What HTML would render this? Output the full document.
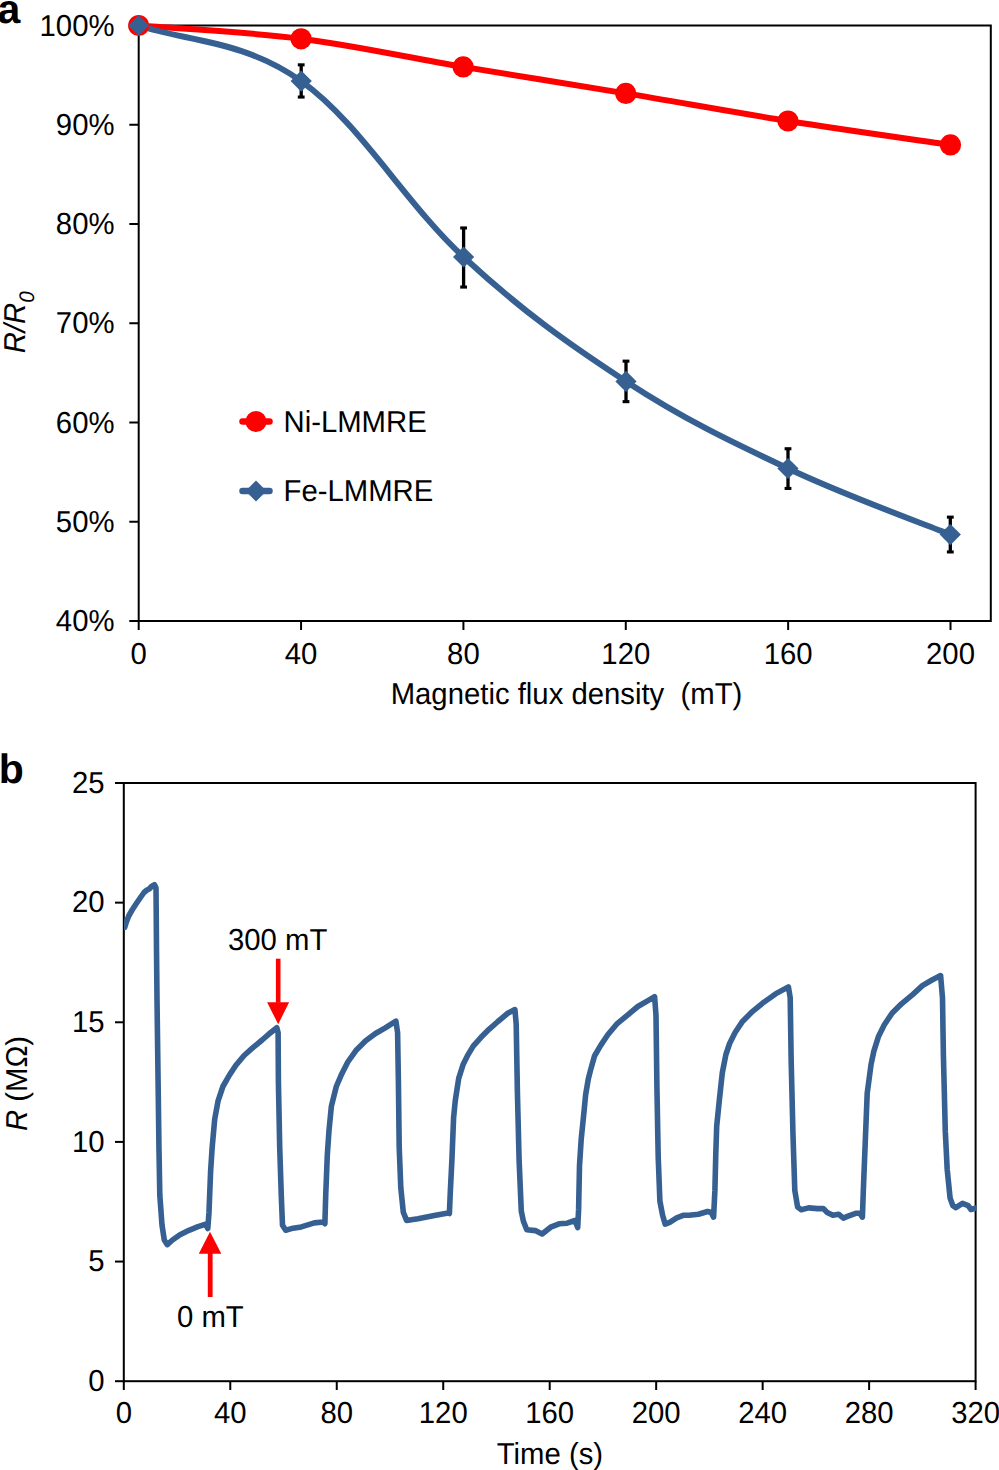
<!DOCTYPE html><html><head><meta charset="utf-8"><style>html,body{margin:0;padding:0;background:#fff;}svg{display:block;}text{font-family:"Liberation Sans",sans-serif;fill:#000;text-rendering:geometricPrecision;}</style></head><body>
<svg width="999" height="1470" viewBox="0 0 999 1470">
<text x="-2.4" y="23.2" style="font-weight:bold;font-size:41px">a</text>
<rect x="138.7" y="25.5" width="852.1" height="595.5" fill="none" stroke="#000" stroke-width="2"/>
<line x1="129.3" y1="25.50" x2="138.7" y2="25.50" stroke="#000" stroke-width="2"/>
<text transform="translate(114.50,35.50) scale(1,1.035)" text-anchor="end" font-size="29.3">100%</text>
<line x1="129.3" y1="124.75" x2="138.7" y2="124.75" stroke="#000" stroke-width="2"/>
<text transform="translate(114.50,134.75) scale(1,1.035)" text-anchor="end" font-size="29.3">90%</text>
<line x1="129.3" y1="224.00" x2="138.7" y2="224.00" stroke="#000" stroke-width="2"/>
<text transform="translate(114.50,234.00) scale(1,1.035)" text-anchor="end" font-size="29.3">80%</text>
<line x1="129.3" y1="323.25" x2="138.7" y2="323.25" stroke="#000" stroke-width="2"/>
<text transform="translate(114.50,333.25) scale(1,1.035)" text-anchor="end" font-size="29.3">70%</text>
<line x1="129.3" y1="422.50" x2="138.7" y2="422.50" stroke="#000" stroke-width="2"/>
<text transform="translate(114.50,432.50) scale(1,1.035)" text-anchor="end" font-size="29.3">60%</text>
<line x1="129.3" y1="521.75" x2="138.7" y2="521.75" stroke="#000" stroke-width="2"/>
<text transform="translate(114.50,531.75) scale(1,1.035)" text-anchor="end" font-size="29.3">50%</text>
<line x1="129.3" y1="621.00" x2="138.7" y2="621.00" stroke="#000" stroke-width="2"/>
<text transform="translate(114.50,631.00) scale(1,1.035)" text-anchor="end" font-size="29.3">40%</text>
<line x1="138.70" y1="621.0" x2="138.70" y2="630" stroke="#000" stroke-width="2"/>
<text transform="translate(138.70,663.90) scale(1,1.035)" text-anchor="middle" font-size="29.3">0</text>
<line x1="301.06" y1="621.0" x2="301.06" y2="630" stroke="#000" stroke-width="2"/>
<text transform="translate(301.06,663.90) scale(1,1.035)" text-anchor="middle" font-size="29.3">40</text>
<line x1="463.42" y1="621.0" x2="463.42" y2="630" stroke="#000" stroke-width="2"/>
<text transform="translate(463.42,663.90) scale(1,1.035)" text-anchor="middle" font-size="29.3">80</text>
<line x1="625.78" y1="621.0" x2="625.78" y2="630" stroke="#000" stroke-width="2"/>
<text transform="translate(625.78,663.90) scale(1,1.035)" text-anchor="middle" font-size="29.3">120</text>
<line x1="788.14" y1="621.0" x2="788.14" y2="630" stroke="#000" stroke-width="2"/>
<text transform="translate(788.14,663.90) scale(1,1.035)" text-anchor="middle" font-size="29.3">160</text>
<line x1="950.50" y1="621.0" x2="950.50" y2="630" stroke="#000" stroke-width="2"/>
<text transform="translate(950.50,663.90) scale(1,1.035)" text-anchor="middle" font-size="29.3">200</text>
<text transform="translate(566.50,703.50) scale(1,1.035)" text-anchor="middle" font-size="29.3">Magnetic flux density&#160; (mT)</text>
<text transform="translate(25,353.3) rotate(-90) scale(1,1.03)" font-size="29.3" font-style="italic">R/R<tspan font-size="20.5" dy="8.3">0</tspan></text>
<path d="M138.7,25.5 C171.18,28.15 247.01,31.85 301.10,38.75 C355.19,45.65 409.13,57.79 463.25,66.90 C517.37,76.01 571.67,84.39 625.80,93.40 C679.92,102.41 733.88,112.37 788.00,120.95 C842.12,129.53 923.42,140.91 950.50,144.90" fill="none" stroke="#FF0000" stroke-width="6" stroke-linejoin="round"/>
<path d="M138.7,25.5 C184.20,41.07 242.72,39.43 301.20,81.10 C359.68,122.77 405.14,202.95 463.60,257.00 C522.06,311.05 567.61,343.33 626.00,381.40 C684.39,419.47 729.63,440.92 788.00,468.50 C846.37,496.08 923.25,523.58 950.30,534.60" fill="none" stroke="#376092" stroke-width="6" stroke-linejoin="round"/>
<circle cx="138.7" cy="25.5" r="10.6" fill="#FF0000"/>
<circle cx="301.1" cy="38.8" r="10.6" fill="#FF0000"/>
<circle cx="463.2" cy="66.9" r="10.6" fill="#FF0000"/>
<circle cx="625.8" cy="93.4" r="10.6" fill="#FF0000"/>
<circle cx="788.0" cy="121.0" r="10.6" fill="#FF0000"/>
<circle cx="950.5" cy="144.9" r="10.6" fill="#FF0000"/>
<rect x="299.55" y="64.00" width="3.3" height="33.90" fill="#000"/>
<rect x="297.80" y="63.30" width="6.8" height="3.1" fill="#000"/>
<rect x="297.80" y="95.50" width="6.8" height="3.1" fill="#000"/>
<rect x="461.95" y="227.10" width="3.3" height="60.80" fill="#000"/>
<rect x="460.20" y="226.40" width="6.8" height="3.1" fill="#000"/>
<rect x="460.20" y="285.50" width="6.8" height="3.1" fill="#000"/>
<rect x="624.35" y="360.30" width="3.3" height="42.20" fill="#000"/>
<rect x="622.60" y="359.60" width="6.8" height="3.1" fill="#000"/>
<rect x="622.60" y="400.10" width="6.8" height="3.1" fill="#000"/>
<rect x="786.35" y="447.90" width="3.3" height="41.40" fill="#000"/>
<rect x="784.60" y="447.20" width="6.8" height="3.1" fill="#000"/>
<rect x="784.60" y="486.90" width="6.8" height="3.1" fill="#000"/>
<rect x="948.65" y="516.30" width="3.3" height="36.50" fill="#000"/>
<rect x="946.90" y="515.60" width="6.8" height="3.1" fill="#000"/>
<rect x="946.90" y="550.40" width="6.8" height="3.1" fill="#000"/>
<path d="M138.7,14.9 l10.6,10.6 l-10.6,10.6 l-10.6,-10.6 z" fill="#376092"/>
<path d="M301.2,70.5 l10.6,10.6 l-10.6,10.6 l-10.6,-10.6 z" fill="#376092"/>
<path d="M463.6,246.4 l10.6,10.6 l-10.6,10.6 l-10.6,-10.6 z" fill="#376092"/>
<path d="M626.0,370.8 l10.6,10.6 l-10.6,10.6 l-10.6,-10.6 z" fill="#376092"/>
<path d="M788.0,457.9 l10.6,10.6 l-10.6,10.6 l-10.6,-10.6 z" fill="#376092"/>
<path d="M950.3,524.0 l10.6,10.6 l-10.6,10.6 l-10.6,-10.6 z" fill="#376092"/>
<line x1="242.5" y1="421.5" x2="269.5" y2="421.5" stroke="#FF0000" stroke-width="6.5" stroke-linecap="round"/>
<circle cx="256" cy="421.5" r="10.5" fill="#FF0000"/>
<text transform="translate(283.50,431.80) scale(1,1.035)" font-size="29.3">Ni-LMMRE</text>
<line x1="242.5" y1="491" x2="269.5" y2="491" stroke="#376092" stroke-width="6.5" stroke-linecap="round"/>
<path d="M256,480.5 l10.5,10.5 l-10.5,10.5 l-10.5,-10.5 z" fill="#376092"/>
<text transform="translate(283.50,501.00) scale(1,1.035)" font-size="29.3">Fe-LMMRE</text>
<text x="-1.2" y="783.4" style="font-weight:bold;font-size:41px">b</text>
<rect x="123.8" y="783.0" width="851.8" height="598.2" fill="none" stroke="#000" stroke-width="2"/>
<line x1="115" y1="1381.20" x2="123.8" y2="1381.20" stroke="#000" stroke-width="2"/>
<text transform="translate(104.50,1391.00) scale(1,1.035)" text-anchor="end" font-size="29.3">0</text>
<line x1="115" y1="1261.56" x2="123.8" y2="1261.56" stroke="#000" stroke-width="2"/>
<text transform="translate(104.50,1271.36) scale(1,1.035)" text-anchor="end" font-size="29.3">5</text>
<line x1="115" y1="1141.92" x2="123.8" y2="1141.92" stroke="#000" stroke-width="2"/>
<text transform="translate(104.50,1151.72) scale(1,1.035)" text-anchor="end" font-size="29.3">10</text>
<line x1="115" y1="1022.28" x2="123.8" y2="1022.28" stroke="#000" stroke-width="2"/>
<text transform="translate(104.50,1032.08) scale(1,1.035)" text-anchor="end" font-size="29.3">15</text>
<line x1="115" y1="902.64" x2="123.8" y2="902.64" stroke="#000" stroke-width="2"/>
<text transform="translate(104.50,912.44) scale(1,1.035)" text-anchor="end" font-size="29.3">20</text>
<line x1="115" y1="783.00" x2="123.8" y2="783.00" stroke="#000" stroke-width="2"/>
<text transform="translate(104.50,792.80) scale(1,1.035)" text-anchor="end" font-size="29.3">25</text>
<line x1="123.80" y1="1381.2" x2="123.80" y2="1390" stroke="#000" stroke-width="2"/>
<text transform="translate(123.80,1422.60) scale(1,1.035)" text-anchor="middle" font-size="29.3">0</text>
<line x1="230.27" y1="1381.2" x2="230.27" y2="1390" stroke="#000" stroke-width="2"/>
<text transform="translate(230.27,1422.60) scale(1,1.035)" text-anchor="middle" font-size="29.3">40</text>
<line x1="336.75" y1="1381.2" x2="336.75" y2="1390" stroke="#000" stroke-width="2"/>
<text transform="translate(336.75,1422.60) scale(1,1.035)" text-anchor="middle" font-size="29.3">80</text>
<line x1="443.23" y1="1381.2" x2="443.23" y2="1390" stroke="#000" stroke-width="2"/>
<text transform="translate(443.23,1422.60) scale(1,1.035)" text-anchor="middle" font-size="29.3">120</text>
<line x1="549.70" y1="1381.2" x2="549.70" y2="1390" stroke="#000" stroke-width="2"/>
<text transform="translate(549.70,1422.60) scale(1,1.035)" text-anchor="middle" font-size="29.3">160</text>
<line x1="656.17" y1="1381.2" x2="656.17" y2="1390" stroke="#000" stroke-width="2"/>
<text transform="translate(656.17,1422.60) scale(1,1.035)" text-anchor="middle" font-size="29.3">200</text>
<line x1="762.65" y1="1381.2" x2="762.65" y2="1390" stroke="#000" stroke-width="2"/>
<text transform="translate(762.65,1422.60) scale(1,1.035)" text-anchor="middle" font-size="29.3">240</text>
<line x1="869.12" y1="1381.2" x2="869.12" y2="1390" stroke="#000" stroke-width="2"/>
<text transform="translate(869.12,1422.60) scale(1,1.035)" text-anchor="middle" font-size="29.3">280</text>
<line x1="975.60" y1="1381.2" x2="975.60" y2="1390" stroke="#000" stroke-width="2"/>
<text transform="translate(975.60,1422.60) scale(1,1.035)" text-anchor="middle" font-size="29.3">320</text>
<text transform="translate(549.90,1463.60) scale(1,1.035)" text-anchor="middle" font-size="29.3">Time (s)</text>
<text transform="translate(26.8,1131) rotate(-90) scale(1,1.03)" font-size="29.3"><tspan font-style="italic">R</tspan> (M&#937;)</text>
<clipPath id="cpb"><rect x="124.0" y="780" width="852.8" height="600"/></clipPath>
<path d="M124.7,927.3 L126.4,922.0 L128.7,916.0 L132.1,910.0 L136.0,904.0 L140.1,898.0 L144.0,892.5 L147.0,890.0 L149.2,889.0 L151.5,886.5 L154.5,884.8 L156.0,888.0 L156.2,910.0 L156.5,950.0 L157.0,999.0 L159.0,1150.0 L159.8,1195.0 L162.0,1225.0 L164.3,1240.0 L167.3,1244.6 L172.5,1240.0 L180.0,1234.8 L189.0,1230.3 L198.0,1226.6 L205.6,1224.3 L207.8,1228.5 L209.0,1212.2 L210.6,1171.4 L212.2,1147.0 L214.7,1119.2 L218.0,1101.2 L222.9,1086.5 L229.4,1075.1 L235.9,1065.3 L244.1,1055.5 L252.3,1048.2 L262.1,1040.0 L268.6,1034.3 L276.8,1027.8 L278.1,1032.7 L278.4,1081.6 L279.7,1147.0 L281.3,1195.9 L282.5,1225.3 L285.7,1230.2 L291.5,1228.6 L301.3,1226.9 L314.3,1222.9 L323.3,1222.0 L324.9,1223.7 L325.7,1195.9 L327.3,1155.1 L329.0,1130.6 L331.4,1106.1 L336.3,1086.5 L341.2,1075.1 L347.8,1062.0 L355.9,1050.6 L365.7,1040.8 L375.5,1033.5 L385.3,1027.8 L395.9,1021.2 L397.6,1032.7 L398.4,1081.6 L399.2,1147.0 L400.8,1187.8 L403.3,1212.2 L406.6,1220.4 L418.0,1218.8 L434.3,1215.5 L448.2,1213.0 L449.4,1213.6 L450.2,1194.1 L451.9,1160.1 L453.6,1117.6 L455.3,1100.5 L458.7,1078.4 L463.0,1064.8 L468.1,1054.6 L473.2,1046.1 L480.8,1037.6 L489.3,1029.1 L497.9,1021.5 L508.1,1013.0 L514.9,1009.6 L516.2,1024.0 L517.4,1092.0 L519.1,1160.1 L521.3,1211.1 L523.4,1221.3 L526.8,1229.8 L535.3,1230.6 L542.1,1234.0 L550.6,1227.2 L559.1,1223.8 L567.1,1223.2 L575.0,1220.5 L577.7,1227.6 L578.6,1209.9 L579.5,1165.7 L581.2,1139.2 L583.9,1112.7 L585.6,1095.0 L588.3,1079.0 L591.0,1068.4 L594.5,1056.0 L600.7,1045.4 L607.8,1034.8 L616.6,1024.2 L627.2,1015.4 L637.8,1006.5 L648.4,1000.3 L654.6,996.8 L656.0,1015.4 L656.9,1086.1 L658.2,1156.9 L659.9,1201.1 L662.6,1215.2 L665.2,1224.1 L669.7,1222.3 L676.7,1217.9 L683.8,1215.2 L689.2,1215.2 L698.4,1214.3 L707.6,1211.5 L711.2,1212.5 L713.6,1217.1 L714.9,1190.4 L715.8,1153.7 L716.7,1126.1 L719.5,1098.6 L722.3,1072.9 L725.9,1054.5 L729.6,1043.5 L735.1,1032.5 L742.5,1021.4 L751.7,1012.2 L762.7,1003.1 L775.5,993.9 L788.4,986.9 L790.2,997.6 L791.2,1061.8 L793.0,1135.3 L794.8,1190.4 L797.6,1207.0 L801.3,1209.7 L808.6,1207.9 L817.6,1208.6 L823.3,1208.6 L827.2,1212.4 L832.9,1215.2 L838.6,1214.3 L843.4,1218.1 L848.1,1216.2 L855.7,1213.3 L859.9,1213.3 L862.4,1217.1 L863.4,1188.6 L865.3,1141.0 L867.2,1093.3 L871.0,1064.8 L873.8,1051.4 L878.6,1036.2 L884.3,1024.8 L892.0,1013.3 L901.5,1003.8 L912.9,994.3 L922.4,985.7 L932.0,980.0 L940.6,975.6 L942.5,998.1 L943.4,1055.2 L945.3,1131.4 L947.2,1169.5 L950.1,1198.1 L952.9,1205.7 L955.8,1207.6 L962.5,1203.4 L968.2,1205.7 L971.0,1209.5 L977.0,1207.6" fill="none" stroke="#376092" stroke-width="5.6" stroke-linejoin="round" stroke-linecap="round" clip-path="url(#cpb)"/>
<rect x="275.9" y="958.7" width="4.6" height="44" fill="#FF0000"/>
<path d="M267.1,1002.3 L289.1,1002.3 L278.2,1024.2 Z" fill="#FF0000"/>
<text transform="translate(228.00,949.80) scale(1,1.035)" font-size="29.3">300 mT</text>
<rect x="207.8" y="1253" width="4.8" height="44" fill="#FF0000"/>
<path d="M198.8,1253.8 L221.3,1253.8 L210,1231.8 Z" fill="#FF0000"/>
<text transform="translate(177.00,1326.90) scale(1,1.035)" font-size="29.3">0 mT</text>
</svg></body></html>
